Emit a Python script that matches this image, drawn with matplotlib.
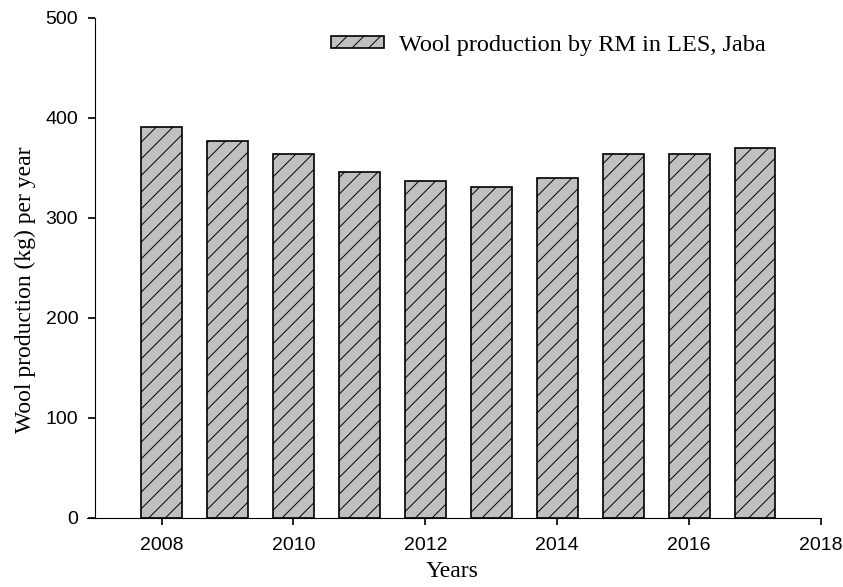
import matplotlib.pyplot as plt

# data
years = [2008, 2009, 2010, 2011, 2012, 2013, 2014, 2015, 2016, 2017]
wool = [391, 377, 364, 346, 337, 331, 340, 364, 364, 370]
x_ticks = [2008, 2010, 2012, 2014, 2016, 2018]
y_ticks = [0, 100, 200, 300, 400, 500]

plt.rcParams['hatch.linewidth'] = 0.7

fig = plt.figure(figsize=(8.43, 5.87), dpi=100)
ax = fig.add_axes([87 / 843, 1 - 518 / 587, (821 - 87) / 843, 500 / 587])

ax.bar(years, wool, width=0.62, color='#c0c0c0', edgecolor='black',
       linewidth=1.2, hatch='//', label='Wool production by RM in LES, Jaba')

ax.set_xlim(2006.87, 2018)
ax.set_ylim(0, 500)
ax.set_xticks(x_ticks)
ax.set_yticks(y_ticks)

# look of the axes
ax.spines['top'].set_visible(False)
ax.spines['right'].set_visible(False)
ax.spines['left'].set_position(('data', 2006.99))
ax.tick_params(direction='out', length=5, width=1.2, labelsize=14)
ax.tick_params(axis='x', pad=9)
ax.tick_params(axis='y', pad=7)
for lab in ax.get_xticklabels() + ax.get_yticklabels():
    lab.set_fontfamily('Liberation Sans')

ax.set_xlabel('Years', fontfamily='Liberation Serif', fontsize=17)
ax.set_ylabel('Wool production (kg) per year', fontfamily='Liberation Serif',
              fontsize=17)
ax.xaxis.set_label_coords(0.497, -0.086)
ax.yaxis.set_label_coords(-0.069, 0.456)

ax.legend(loc='center right', bbox_to_anchor=(0.954, 0.946), frameon=False,
          prop={'family': 'Liberation Serif', 'size': 17.5},
          handlelength=2.2, handleheight=0.35, handletextpad=0.6)

fig.savefig('out.png', dpi=100)
